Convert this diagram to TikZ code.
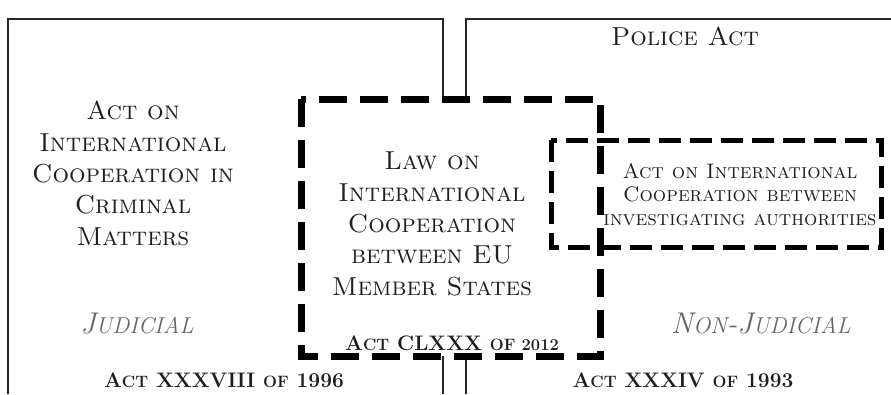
\documentclass[tikz,border=0pt]{standalone}
\usepackage{fontspec}
\begin{document}
\begin{tikzpicture}[x=1pt,y=-1pt]
\tikzset{
  solidline/.style={line width=2pt, draw=black!85},
  bigdash/.style={line width=7pt, dash pattern=on 28pt off 13pt},
  smalldash/.style={line width=5pt, dash pattern=on 22pt off 9pt},
  txt/.style={align=center, inner sep=0pt, text=black!88, anchor=base},
  bigtxt/.style={txt, font=\fontsize{26}{31.3}\selectfont\scshape},
  smalltxt/.style={txt, font=\fontsize{21}{23.5}\selectfont\scshape},
  boldtxt/.style={txt, font=\fontsize{21}{24}\selectfont\bfseries},
  ittxt/.style={txt, text=black!60, font=\fontsize{30}{32}\selectfont\itshape},
}
\newcommand{\smit}[1]{{\fontsize{23}{26}\selectfont #1}}
\newcommand{\smbf}[1]{{\fontsize{16.5}{20}\selectfont #1}}
\path[use as bounding box, fill=white] (0,0) rectangle (891,394);
% outer solid frames
\coordinate (lb) at (8,394);
\coordinate (lt) at (8,19);
\coordinate (rt) at (443,19);
\coordinate (rb) at (443,394);
\coordinate (Rl) at (466,394);
\coordinate (Rt) at (466,19);
\coordinate (Rr) at (895,19);
\draw[solidline] (lb) -- (lt) -- (rt) -- (rb);
\draw[solidline] (Rl) -- (Rt) -- (Rr);
% central box (white inside hides the frame lines)
\coordinate (c1) at (301,99);
\coordinate (c2) at (600,356);
\coordinate (s1) at (551,140);
\coordinate (s2) at (881,247);
\fill[white] (c1) rectangle (c2);
\draw[bigdash] (c1) rectangle (c2);
\draw[smalldash] (s1) rectangle (s2);
% texts
\node[bigtxt] (police) at (685,45) {Police Act};
\node[bigtxt] (crim) at (133,245) {Act on\\International\\Cooperation in\\Criminal\\Matters};
\node[bigtxt] (eu) at (432,295) {Law on\\International\\Cooperation\\between EU\\Member States};
\node[smalltxt] (inv) at (740,225) {Act on International\\Cooperation between\\investigating authorities};
\node[ittxt] (jud) at (137,333) {J\smit{UDICIAL}};
\node[ittxt] (nonjud) at (761,333) {N\smit{ON}-J\smit{UDICIAL}};
\node[boldtxt] (a2012) at (452,350) {A\smbf{CT} CLXXX \smbf{OF 2012}};
\node[boldtxt] (a1996) at (224,387) {A\smbf{CT} XXXVIII \smbf{OF} 1996};
\node[boldtxt] (a1993) at (683,387) {A\smbf{CT} XXXIV \smbf{OF} 1993};
\end{tikzpicture}
\end{document}
